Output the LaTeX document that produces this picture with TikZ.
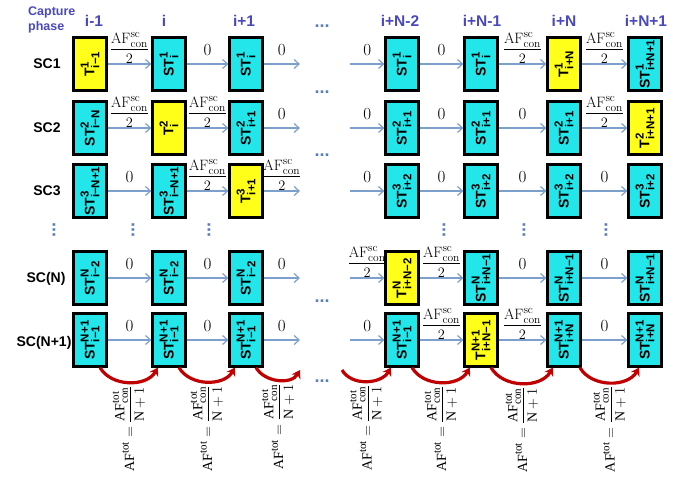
\documentclass[tikz,border=0pt]{standalone}
\usepackage{fontspec}
\setsansfont{Liberation Sans}
\newfontfamily\timesfont{Liberation Serif}
\usepackage{amsmath}
\usepackage{graphicx}
\usepackage{tikz}
\usetikzlibrary{arrows.meta, positioning, calc}
\definecolor{phaseblue}{HTML}{4A48C0}
\definecolor{flowblue}{HTML}{7C9FCC}
\definecolor{dotblue}{HTML}{5A7FB8}
\definecolor{stcyan}{HTML}{22E6EA}
\definecolor{tyellow}{HTML}{FFFF1A}
\definecolor{shiftred}{HTML}{C00000}
\newcommand{\scr}[2]{\text{\fontsize{#1}{#1}\selectfont #2}}
\newcommand{\blab}[3]{\rotatebox{90}{$\text{#1}^{\scr{11.5}{#2}}_{\scr{11.5}{#3}}$}}
\newcommand{\afsc}{$\dfrac{\mathrm{AF}^{\scr{11.5}{sc}}_{\scr{11.5}{con}}}{2}$}
\newcommand{\tms}[1]{\text{\timesfont #1}}
\newcommand{\tmss}[1]{\text{\timesfont\fontsize{11}{11}\selectfont #1}}
\newcommand{\aftot}{$\tms{AF}^{\tmss{tot}}=\dfrac{\tms{AF}^{\tmss{tot}}_{\tmss{con}}}{\tms{N}+1}$}

\begin{document}
\begin{tikzpicture}[
  x=1pt, y=1pt,
  sbox/.style={draw=black, line width=2.2pt, fill=stcyan, minimum width=33pt, minimum height=53pt, inner sep=1pt, font=\fontsize{14}{15}\selectfont\sffamily\bfseries},
  tbox/.style={sbox, fill=tyellow},
  arr/.style={-{Straight Barb[length=5pt,width=9pt]}, flowblue, line width=1.2pt},
  zl/.style={midway, above=7pt, inner sep=1pt, text=black, font=\fontsize{17}{17}\selectfont},
  fl/.style={midway, above=0pt, inner sep=0.3pt, text=black, font=\fontsize{15}{16}\selectfont},
  hdr/.style={inner sep=1pt, text=phaseblue, font=\fontsize{15.5}{17}\selectfont\sffamily\bfseries},
  sclab/.style={font=\fontsize{14}{16}\selectfont\sffamily\bfseries},
  hdots/.style={inner sep=0pt, text=dotblue, font=\fontsize{18}{18}\selectfont\sffamily\bfseries},
  vdots/.style={hdots, rotate=90},
  rarc/.style={-{Stealth[length=8pt,width=10pt]}, shiftred, line width=3.2pt},
  totl/.style={midway, rotate=90, anchor=east, inner sep=2pt, text=black, font=\fontsize{14}{15}\selectfont}
]
\useasboundingbox (0,0) rectangle (689,-477);

% header
\node[hdr, anchor=north west, align=left, font=\fontsize{12.5}{15}\selectfont\sffamily\bfseries] (cap) at (27,-6) {Capture\\phase};
\node[hdr] (h1) at (94,-21) {i-1};
\node[hdr] (h2) at (164,-21) {i};
\node[hdr] (h3) at (244,-21) {i+1};
\node[hdr] (h4) at (400,-21) {i+N-2};
\node[hdr] (h5) at (482,-21) {i+N-1};
\node[hdr] (h6) at (564,-21) {i+N};
\node[hdr] (h7) at (646,-21) {i+N+1};

% scan chain labels
\node[sclab] (l1) at (47,-64) {SC1};
\node[sclab] (l2) at (47,-128) {SC2};
\node[sclab] (l3) at (47,-191) {SC3};
\node[sclab] (l4) at (46,-279) {SC(N)};
\node[sclab] (l5) at (44,-343) {SC(N+1)};

% SC1
\node[tbox] (a1) at (90,-64) {\blab{T}{1}{i−1}};
\node[sbox] (a2) at (169,-64) {\blab{ST}{1}{i}};
\node[sbox] (a3) at (246,-64) {\blab{ST}{1}{i}};
\node[sbox] (a4) at (402,-64) {\blab{ST}{1}{i}};
\node[sbox] (a5) at (481,-64) {\blab{ST}{1}{i}};
\node[tbox] (a6) at (564,-64) {\blab{T}{1}{i+N}};
\node[sbox] (a7) at (645,-64) {\blab{ST}{1}{i+N+1}};
% SC2
\node[sbox] (b1) at (90,-128) {\blab{ST}{2}{i−N}};
\node[tbox] (b2) at (169,-128) {\blab{T}{2}{i}};
\node[sbox] (b3) at (246,-128) {\blab{ST}{2}{i+1}};
\node[sbox] (b4) at (402,-128) {\blab{ST}{2}{i+1}};
\node[sbox] (b5) at (481,-128) {\blab{ST}{2}{i+1}};
\node[sbox] (b6) at (564,-128) {\blab{ST}{2}{i+1}};
\node[tbox] (b7) at (645,-128) {\blab{T}{2}{i+N+1}};
% SC3
\node[sbox] (c1) at (90,-191) {\blab{ST}{3}{i−N+1}};
\node[sbox] (c2) at (169,-191) {\blab{ST}{3}{i−N+1}};
\node[tbox] (c3) at (246,-191) {\blab{T}{3}{i+1}};
\node[sbox] (c4) at (402,-191) {\blab{ST}{3}{i+2}};
\node[sbox] (c5) at (481,-191) {\blab{ST}{3}{i+2}};
\node[sbox] (c6) at (564,-191) {\blab{ST}{3}{i+2}};
\node[sbox] (c7) at (645,-191) {\blab{ST}{3}{i+2}};
% SC(N)
\node[sbox] (d1) at (90,-278) {\blab{ST}{N}{i−2}};
\node[sbox] (d2) at (169,-278) {\blab{ST}{N}{i−2}};
\node[sbox] (d3) at (246,-278) {\blab{ST}{N}{i−2}};
\node[tbox] (d4) at (402,-278) {\blab{T}{N}{i+N−2}};
\node[sbox] (d5) at (481,-278) {\blab{ST}{N}{i+N−1}};
\node[sbox] (d6) at (564,-278) {\blab{ST}{N}{i+N−1}};
\node[sbox] (d7) at (645,-278) {\blab{ST}{N}{i+N−1}};
% SC(N+1)
\node[sbox] (e1) at (90,-340) {\blab{ST}{N+1}{i−1}};
\node[sbox] (e2) at (169,-340) {\blab{ST}{N+1}{i−1}};
\node[sbox] (e3) at (246,-340) {\blab{ST}{N+1}{i−1}};
\node[sbox] (e4) at (402,-340) {\blab{ST}{N+1}{i−1}};
\node[tbox] (e5) at (481,-340) {\blab{T}{N+1}{i+N−1}};
\node[sbox] (e6) at (564,-340) {\blab{ST}{N+1}{i+N}};
\node[sbox] (e7) at (645,-340) {\blab{ST}{N+1}{i+N}};

% open ends around the gap
\foreach \r/\y in {a/-64, b/-128, c/-191, d/-278, e/-340} {
  \coordinate (\r o) at (300,\y);
  \coordinate (\r i) at (350,\y);
}
\coordinate (ko) at (300,-370);
\coordinate (ki) at (342,-370);

% dots
\node[hdots] (g1) at (322,-26) {...};
\node[hdots] (g2) at (322,-92) {...};
\node[hdots] (g3) at (322,-155) {...};
\node[hdots] (g4) at (322,-301) {...};
\node[hdots] (g5) at (322,-381) {...};
\foreach \x in {54,133,209,444,524,606}
  \node[vdots] at (\x,-230) {...};

% shifts
\draw[arr] (a1) -- node[fl] {\afsc} (a2);
\draw[arr] (a2) -- node[zl] {0} (a3);
\draw[arr] (a3) -- node[zl] {0} (ao);
\draw[arr] (ai) -- node[zl] {0} (a4);
\draw[arr] (a4) -- node[zl] {0} (a5);
\draw[arr] (a5) -- node[fl] {\afsc} (a6);
\draw[arr] (a6) -- node[fl] {\afsc} (a7);

\draw[arr] (b1) -- node[fl] {\afsc} (b2);
\draw[arr] (b2) -- node[fl] {\afsc} (b3);
\draw[arr] (b3) -- node[zl] {0} (bo);
\draw[arr] (bi) -- node[zl] {0} (b4);
\draw[arr] (b4) -- node[zl] {0} (b5);
\draw[arr] (b5) -- node[zl] {0} (b6);
\draw[arr] (b6) -- node[fl] {\afsc} (b7);

\draw[arr] (c1) -- node[zl] {0} (c2);
\draw[arr] (c2) -- node[fl] {\afsc} (c3);
\draw[arr] (c3) -- node[fl] {\afsc} (co);
\draw[arr] (ci) -- node[zl] {0} (c4);
\draw[arr] (c4) -- node[zl] {0} (c5);
\draw[arr] (c5) -- node[zl] {0} (c6);
\draw[arr] (c6) -- node[zl] {0} (c7);

\draw[arr] (d1) -- node[zl] {0} (d2);
\draw[arr] (d2) -- node[zl] {0} (d3);
\draw[arr] (d3) -- node[zl] {0} (do);
\draw[arr] (di) -- node[fl] {\afsc} (d4);
\draw[arr] (d4) -- node[fl] {\afsc} (d5);
\draw[arr] (d5) -- node[zl] {0} (d6);
\draw[arr] (d6) -- node[zl] {0} (d7);

\draw[arr] (e1) -- node[zl] {0} (e2);
\draw[arr] (e2) -- node[zl] {0} (e3);
\draw[arr] (e3) -- node[zl] {0} (eo);
\draw[arr] (ei) -- node[zl] {0} (e4);
\draw[arr] (e4) -- node[fl] {\afsc} (e5);
\draw[arr] (e5) -- node[fl] {\afsc} (e6);
\draw[arr] (e6) -- node[zl] {0} (e7);

% capture loops
\draw[rarc] (e1.-70) to[out=-60, in=-120] node[totl] {\aftot} (e2.-112);
\draw[rarc] (e2.-70) to[out=-60, in=-120] node[totl] {\aftot} (e3.-112);
\draw[rarc] (e3.-70) to[out=-60, in=-120] node[totl] {\aftot} (ko);
\draw[rarc] (ki) to[out=-60, in=-120] node[totl] {\aftot} (e4.-112);
\draw[rarc] (e4.-70) to[out=-60, in=-120] node[totl] {\aftot} (e5.-112);
\draw[rarc] (e5.-70) to[out=-60, in=-120] node[totl] {\aftot} (e6.-112);
\draw[rarc] (e6.-60) to[out=-60, in=-120] node[totl] {\aftot} (e7.-102);
\end{tikzpicture}
\end{document}
